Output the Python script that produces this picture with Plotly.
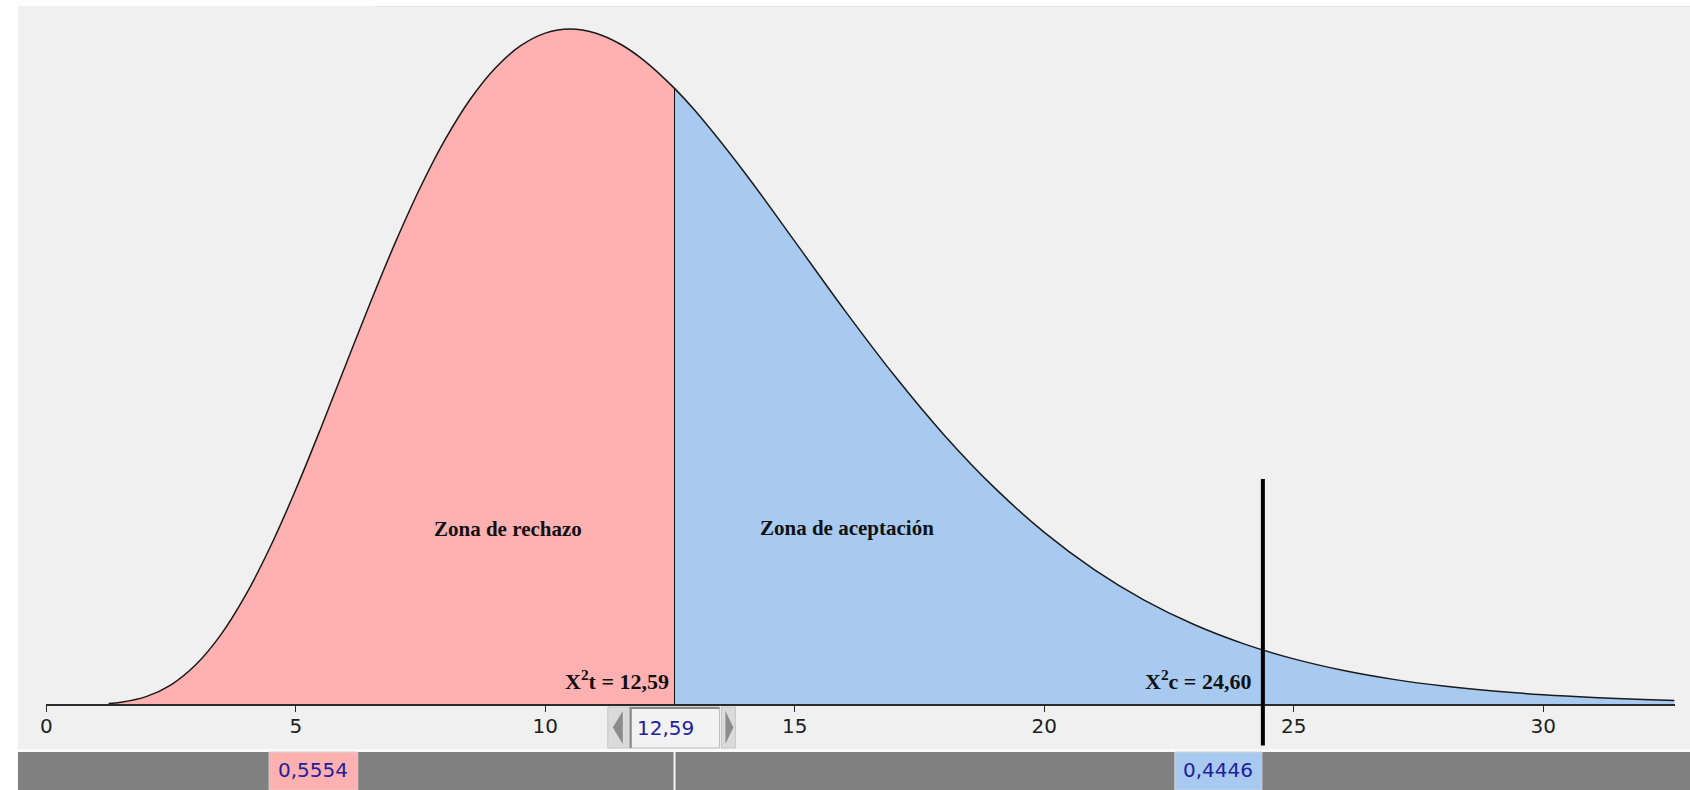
import plotly.graph_objects as go

# ---------------- data ----------------
chi_x = [1.25, 1.5, 2, 2.5, 3, 3.5, 4, 4.5, 5, 5.5, 6, 6.5, 7, 7.5, 8, 8.5, 9, 9.5,
         10, 10.5, 11, 11.5, 12, 12.59, 13, 14, 15, 16, 17, 18, 19, 20, 21, 22,
         23, 24, 25, 26, 27, 28, 29, 30, 31, 32, 32.63]
density = [0.0014, 0.0033, 0.0116, 0.0292, 0.0592, 0.1035, 0.1626, 0.2350, 0.3182,
           0.4087, 0.5026, 0.5959, 0.6848, 0.7661, 0.8372, 0.8964, 0.9424, 0.9749,
           0.9939, 1.0000, 0.9942, 0.9778, 0.9522, 0.9121, 0.8792, 0.7869, 0.6856,
           0.5835, 0.4866, 0.3984, 0.3210, 0.2548, 0.1997, 0.1546, 0.1184, 0.0898,
           0.0675, 0.0503, 0.0372, 0.0273, 0.0199, 0.0144, 0.0104, 0.0075, 0.0060]

chi_t = 12.59           # critical value (cut between zones)
chi_c_pos = 24.38       # where the calculated-value marker is drawn
chi_c_label = "24,60"
chi_t_label = "12,59"
area_left = "0,5554"
area_right = "0,4446"
zone_labels = ["Zona de rechazo", "Zona de aceptación"]
tick_vals = [0, 5, 10, 15, 20, 25, 30]
tick_text = ["0", "5", "10", "15", "20", "25", "30"]

# ---------------- geometry helpers ----------------
W, H = 1690, 790
X0PX, PXU = 40.4, 50.08          # pixel of x=0, pixels per unit
AXPY, PYU = 704.5, 675.5         # pixel of y=0, pixels per unit
XMAX = chi_x[-1]


def px(x):
    return x / W


def py(y):
    return 1 - y / H


def dx(pxv):
    return (pxv - X0PX) / PXU


def dy(pyv):
    return (AXPY - pyv) / PYU


PINK = "#ffb0b0"
BLUE = "#a8caf0"
BG = "#f0f0f0"
BAR = "#808080"
TXT_BLUE = "#22209a"
UI_FONT = "DejaVu Sans, Verdana, sans-serif"

left_x = [v for v in chi_x if v <= chi_t]
left_y = density[:len(left_x)]
right_x = [v for v in chi_x if v >= chi_t]
right_y = density[len(chi_x) - len(right_x):]

fig = go.Figure()
fig.add_trace(go.Scatter(x=left_x, y=left_y, mode="lines", line=dict(width=0, shape="spline"),
                         fill="tozeroy", fillcolor=PINK, hoverinfo="skip"))
fig.add_trace(go.Scatter(x=right_x, y=right_y, mode="lines", line=dict(width=0, shape="spline"),
                         fill="tozeroy", fillcolor=BLUE, hoverinfo="skip"))
fig.add_trace(go.Scatter(x=chi_x, y=density, mode="lines",
                         line=dict(color="#1a1a1a", width=1.5, shape="spline"), hoverinfo="skip"))

shapes = []
# background panels
shapes.append(dict(type="rect", xref="paper", yref="paper", x0=px(12), x1=1, y0=py(749), y1=py(6),
                   fillcolor=BG, line=dict(width=0), layer="below"))
shapes.append(dict(type="line", xref="paper", yref="paper", x0=px(370), x1=1, y0=py(6.5), y1=py(6.5),
                   line=dict(color="#e4e4e4", width=1), layer="below"))
shapes.append(dict(type="rect", xref="paper", yref="paper", x0=px(12), x1=1, y0=py(752), y1=py(749),
                   fillcolor="#fafafa", line=dict(width=0), layer="below"))
shapes.append(dict(type="rect", xref="paper", yref="paper", x0=px(12), x1=1, y0=0, y1=py(752),
                   fillcolor=BAR, line=dict(width=0), layer="below"))
# white separator in bar at the cut
cut_px = X0PX + chi_t * PXU
shapes.append(dict(type="line", xref="paper", yref="paper", x0=px(cut_px), x1=px(cut_px),
                   y0=0, y1=py(752), line=dict(color="#f4f4f4", width=2), layer="below"))
# area boxes
shapes.append(dict(type="rect", xref="paper", yref="paper", x0=px(264), x1=px(353), y0=0, y1=py(752),
                   fillcolor=PINK, line=dict(color="#d2d2d2", width=1), layer="below"))
mark_px = X0PX + chi_c_pos * PXU
shapes.append(dict(type="rect", xref="paper", yref="paper", x0=px(1173), x1=px(mark_px - 1),
                   y0=0, y1=py(752), fillcolor=BLUE, line=dict(color="#d2d2d2", width=1), layer="below"))
# cut line
shapes.append(dict(type="line", xref="x", yref="y", x0=chi_t, x1=chi_t, y0=0, y1=density[chi_x.index(chi_t)],
                   line=dict(color="#111111", width=1)))
# calculated value marker
shapes.append(dict(type="line", xref="x", yref="y", x0=chi_c_pos, x1=chi_c_pos, y0=dy(745.5), y1=dy(479),
                   line=dict(color="#000000", width=4)))

# spinner widget under the cut value
wl, wr, wt, wb = 604, 732, 707, 748
shapes.append(dict(type="rect", xref="paper", yref="paper", x0=px(wl), x1=px(626), y0=py(wb), y1=py(wt),
                   fillcolor="#dadada", line=dict(color="#c4c4c4", width=1)))
shapes.append(dict(type="path", xref="paper", yref="paper",
                   path=f"M {px(619)} {py(711)} L {px(609)} {py(727.5)} L {px(619)} {py(744)} Z",
                   fillcolor="#8c8c8c", line=dict(width=0)))
shapes.append(dict(type="rect", xref="paper", yref="paper", x0=px(626), x1=px(716), y0=py(wb), y1=py(wt),
                   fillcolor="#f2f2f2", line=dict(color="#bdbdbd", width=1)))
shapes.append(dict(type="line", xref="paper", yref="paper", x0=px(626), x1=px(716), y0=py(708), y1=py(708),
                   line=dict(color="#8a8a8a", width=2)))
shapes.append(dict(type="line", xref="paper", yref="paper", x0=px(627), x1=px(627), y0=py(wb), y1=py(708),
                   line=dict(color="#8a8a8a", width=2)))
shapes.append(dict(type="rect", xref="paper", yref="paper", x0=px(718), x1=px(wr), y0=py(wb), y1=py(wt),
                   fillcolor="#dadada", line=dict(color="#c4c4c4", width=1)))
shapes.append(dict(type="path", xref="paper", yref="paper",
                   path=f"M {px(722)} {py(711)} L {px(730)} {py(727.5)} L {px(722)} {py(744)} Z",
                   fillcolor="#8c8c8c", line=dict(width=0)))

annotations = []
serif = dict(family="Liberation Serif, Times New Roman, serif", size=21, color="#111111")
serif2 = dict(family="Liberation Serif, Times New Roman, serif", size=22, color="#111111")
annotations.append(dict(x=dx(503.5), y=dy(529), xref="x", yref="y", text=f"<b>{zone_labels[0]}</b>",
                        showarrow=False, font=serif, xanchor="center", yanchor="middle"))
annotations.append(dict(x=dx(843.5), y=dy(528), xref="x", yref="y", text=f"<b>{zone_labels[1]}</b>",
                        showarrow=False, font=serif, xanchor="center", yanchor="middle"))
annotations.append(dict(x=chi_t, y=dy(680), xref="x", yref="y",
                        text=f"<b>X<sup>2</sup>t = {chi_t_label}</b>", showarrow=False, font=serif2,
                        xanchor="right", yanchor="middle", xshift=-4))
annotations.append(dict(x=chi_c_pos, y=dy(680), xref="x", yref="y",
                        text=f"<b>X<sup>2</sup>c = {chi_c_label}</b>", showarrow=False, font=serif2,
                        xanchor="right", yanchor="middle", xshift=-10))
sans_blue = dict(family=UI_FONT, size=20, color=TXT_BLUE)
annotations.append(dict(x=px(308.5), y=py(770), xref="paper", yref="paper", text=area_left,
                        showarrow=False, font=sans_blue, xanchor="center", yanchor="middle"))
annotations.append(dict(x=px(1216.5), y=py(770), xref="paper", yref="paper", text=area_right,
                        showarrow=False, font=sans_blue, xanchor="center", yanchor="middle"))
annotations.append(dict(x=px(662), y=py(727.5), xref="paper", yref="paper", text=chi_t_label,
                        showarrow=False, font=sans_blue, xanchor="center", yanchor="middle"))

fig.update_layout(
    width=W, height=H,
    margin=dict(l=0, r=0, t=0, b=0),
    paper_bgcolor="#ffffff",
    plot_bgcolor="rgba(0,0,0,0)",
    showlegend=False,
    hovermode=False,
    shapes=shapes,
    annotations=annotations,
    xaxis=dict(domain=[px(X0PX), px(X0PX + XMAX * PXU)], range=[0, XMAX],
               anchor="free", position=py(AXPY),
               showline=True, linewidth=2, linecolor="#2a2a2a",
               ticks="outside", ticklen=6, tickwidth=1, tickcolor="#2a2a2a",
               ticklabelstandoff=-3,
               tickvals=tick_vals, ticktext=tick_text,
               tickfont=dict(family=UI_FONT, size=20, color="#1e1e1e"),
               showgrid=False, zeroline=False, fixedrange=True),
    yaxis=dict(domain=[0, 1], range=[dy(H), dy(0)], visible=False, showgrid=False,
               zeroline=False, fixedrange=True),
)

fig.write_html("out.html", config={"displayModeBar": False},
               post_script="document.body.style.margin='0';document.body.style.overflow='hidden';")
